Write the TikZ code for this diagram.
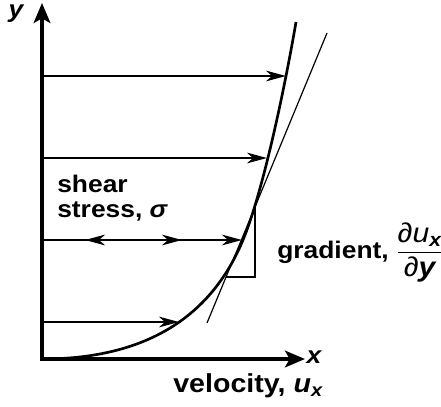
\documentclass[tikz,border=0pt]{standalone}
\usepackage{amsmath}
\usepackage{fontspec}
\setmainfont[FakeStretch=1.1]{Liberation Sans}
\usetikzlibrary{arrows.meta,decorations.markings}
\tikzset{flowtip/.tip={Stealth[length=15pt,width=8pt,inset=4.5pt]},
 axistip/.tip={Stealth[length=15pt,width=12.5pt,inset=3.5pt]},
 every node/.style={font=\fontsize{18}{19}\selectfont\bfseries,inner sep=0pt},
 axis/.style={line width=2.6pt,axistip-axistip},
 flow/.style={line width=1.7pt,-flowtip},
 profile/.style={line width=2pt},
 tangent/.style={line width=0.9pt},
 slope/.style={line width=0.8pt}}

\begin{document}
\begin{tikzpicture}[x=0.75pt,y=-0.75pt]
\useasboundingbox (0,0) rectangle (441,406);
% axes
\coordinate (O) at (42,359);
\coordinate (ytip) at (42,3);
\coordinate (xtip) at (305,359);
\draw[axis] (ytip) |- (xtip);
\node[font=\fontsize{18}{19}\selectfont\bfseries\itshape,anchor=base] (ylab) at (16,18) {y};
\node[font=\fontsize{18}{19}\selectfont\bfseries\itshape] (xlab) at (314,357) {x};
% velocity profile
\draw[profile] (O) .. controls (165,359) and (218,300) .. (243,240)
 .. controls (263.7,190) and (285.8,82) .. (296,22);
% velocity arrows
\foreach \h/\c [count=\i] in {76/286,158/267,322/179}{
 \coordinate (s\i) at (42,\h);
 \coordinate (c\i) at (\c,\h);
 \draw[flow] (s\i) -- (c\i);
}
\coordinate (s4) at (42,240);
\coordinate (c4) at (242,240);
\draw[flow,postaction={decorate},decoration={markings,
 mark=at position 0.215 with {\arrowreversed{flowtip}},
 mark=at position 0.70 with {\arrow{flowtip}}}] (s4) -- (c4);
% tangent and slope triangle
\coordinate (tlo) at (207,323);
\coordinate (thi) at (327,33);
\draw[tangent] (tlo) -- (thi);
\coordinate (tr1) at (255,207);
\coordinate (tr2) at (255,277);
\coordinate (tr3) at (226,277);
\draw[slope] (tr1) -- (tr2) -- (tr3);
% labels
\node[anchor=north west,align=left] (stress) at (57,175) {shear\\stress, {\itshape σ}};
\node[anchor=base west] (grad) at (277,258)
 {gradient, $\genfrac{}{}{1pt}{0}{\hbox{\fontsize{20.5}{21}\selectfont\mdseries\itshape ∂u\textsubscript{\bfseries x}}}{\hbox{\fontsize{20.5}{21}\selectfont{\mdseries ∂}\itshape y}}$};
\node[anchor=base west,font=\fontsize{19.5}{20}\selectfont\bfseries] (vel) at (173,392)
 {velocity, {\itshape u\textsubscript{x}}};
\end{tikzpicture}
\end{document}
